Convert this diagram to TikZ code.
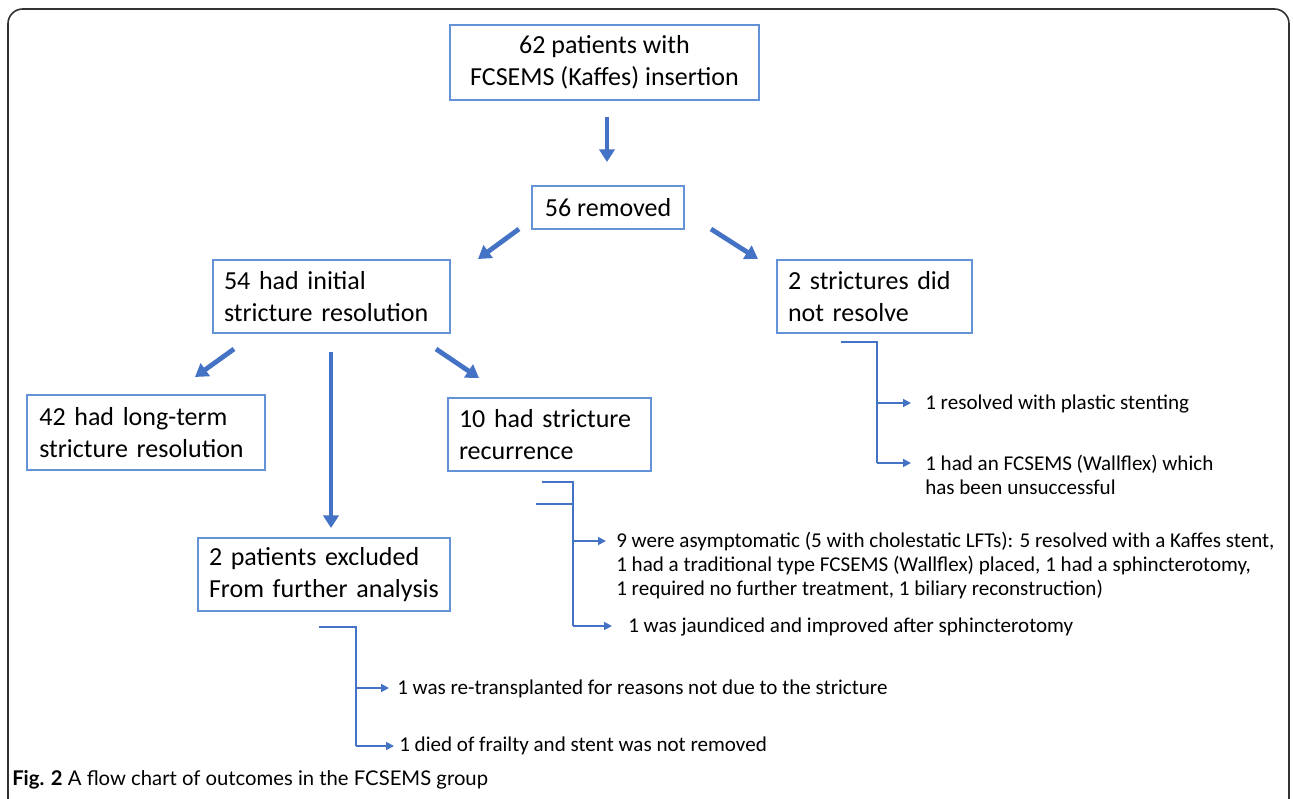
\documentclass[tikz,border=0pt]{standalone}
\usepackage{fontspec}
\setmainfont{Carlito}
\newfontfamily\capfont{Lato}
\usetikzlibrary{arrows.meta}
\definecolor{arrblue}{RGB}{68,114,196}
\definecolor{boxblue}{RGB}{100,146,214}
\definecolor{framegray}{RGB}{50,50,50}
\tikzset{
  box/.style={draw=boxblue, line width=0.9pt, inner xsep=8.25pt, inner ysep=0pt,
    font=\fontsize{19.5}{24}\selectfont, align=left},
  bigarrow/.style={draw=arrblue, line width=3.6pt, -{Triangle[width=11.5pt,length=9.5pt]}},
  elbow/.style={draw=arrblue, line width=1.7pt},
  elbowarrow/.style={draw=arrblue, line width=1.3pt, -{Triangle[width=6pt,length=6pt]}},
  small/.style={anchor=base west, inner sep=0pt, font=\fontsize{15.8}{17.8}\selectfont, align=left},
}
\begin{document}
\begin{tikzpicture}[x=0.75pt,y=-0.75pt]
\useasboundingbox (0,0) rectangle (1293,799);
\clip (0,0) rectangle (1293,799);
% frame
\draw[framegray, line width=1.2pt, rounded corners=11pt] (8,850) -- (8,9) -- (1289,9) -- (1289,850);

% boxes
\node[box, align=center, minimum width=231.75pt, minimum height=56.25pt] (top) at (604.5,62.5)
  {62 patients with\\FCSEMS (Kaffes) insertion};
\node[box, align=center, minimum width=114pt, minimum height=32.25pt] (removed) at (608,207.5) {56 removed};
\node[box, text width=161.25pt, minimum height=54.75pt] (init) at (331.5,296.5) {54 had initial\\stricture resolution};
\node[box, text width=129.75pt, minimum height=54.75pt] (notres) at (874.5,296.5) {2 strictures did\\not resolve};
\node[box, text width=160pt, inner xsep=9.25pt, minimum height=56.25pt] (longterm) at (146,432.5) {42 had long-term\\stricture resolution};
\node[box, text width=135.75pt, minimum height=54.75pt] (recur) at (549.5,434.5) {10 had stricture\\recurrence};
\node[box, text width=172.5pt, minimum height=54.75pt] (excl) at (324,574.5) {2 patients excluded\\From further analysis};

% big arrows
\coordinate (a0s) at (607,117); \coordinate (a0e) at (607,162);
\coordinate (a1s) at (519,229); \coordinate (a1e) at (478,259);
\coordinate (a2s) at (711,229); \coordinate (a2e) at (758,259);
\coordinate (a3s) at (234,349); \coordinate (a3e) at (195,377);
\coordinate (a4s) at (331,352); \coordinate (a4e) at (331,528);
\coordinate (a5s) at (436,349); \coordinate (a5e) at (479,378);
\foreach \s/\e in {a0s/a0e,a1s/a1e,a2s/a2e,a3s/a3e,a4s/a4e,a5s/a5e}
  \draw[bigarrow] (\s) -- (\e);

% texts
\node[small] (n1) at (925,409) {1 resolved with plastic stenting};
\node[small, anchor=north west] (n2) at (925,455) {1 had an FCSEMS (Wallflex) which\\has been unsuccessful};
\node[small, anchor=north west] (r1) at (616,532) {9 were asymptomatic (5 with cholestatic LFTs): 5 resolved with a Kaffes stent,\\1 had a traditional type FCSEMS (Wallflex) placed, 1 had a sphincterotomy,\\1 required no further treatment, 1 biliary reconstruction)};
\node[small] (r2) at (628,632) {1 was jaundiced and improved after sphincterotomy};
\node[small] (e1) at (397,694) {1 was re-transplanted for reasons not due to the stricture};
\node[small] (e2) at (399,751) {1 died of frailty and stent was not removed};

% elbow: not resolved
\coordinate (b0) at (841,342); \coordinate (b1) at (877,342);
\coordinate (b2) at (877,403); \coordinate (b3) at (877,463);
\coordinate (b2e) at (911,403); \coordinate (b3e) at (911,463);
\draw[elbow] (b0) -- (b1) -- (b3);
\draw[elbowarrow] (b3) -- (b3e);
\draw[elbowarrow] (b2) -- (b2e);

% elbow: recurrence
\coordinate (c0) at (542,482); \coordinate (c1) at (573,482);
\coordinate (c0b) at (536,504); \coordinate (c1b) at (573,504);
\coordinate (c2) at (573,541); \coordinate (c3) at (573,626);
\coordinate (c2e) at (606,541); \coordinate (c3e) at (612,626);
\draw[elbow] (c0) -- (c1) -- (c3);
\draw[elbow] (c0b) -- (c1b);
\draw[elbowarrow] (c3) -- (c3e);
\draw[elbowarrow] (c2) -- (c2e);

% elbow: excluded
\coordinate (d0) at (319,627); \coordinate (d1) at (356,627);
\coordinate (d2) at (356,688); \coordinate (d3) at (356,746);
\coordinate (d2e) at (389,688); \coordinate (d3e) at (394,746);
\draw[elbow] (d0) -- (d1) -- (d3);
\draw[elbowarrow] (d3) -- (d3e);
\draw[elbowarrow] (d2) -- (d2e);

% caption
\node[anchor=base west, inner sep=0pt, font=\capfont\fontsize{15.2}{18}\selectfont] (cap) at (12,785)
  {\textbf{Fig. 2} A flow chart of outcomes in the FCSEMS group};
\end{tikzpicture}
\end{document}
